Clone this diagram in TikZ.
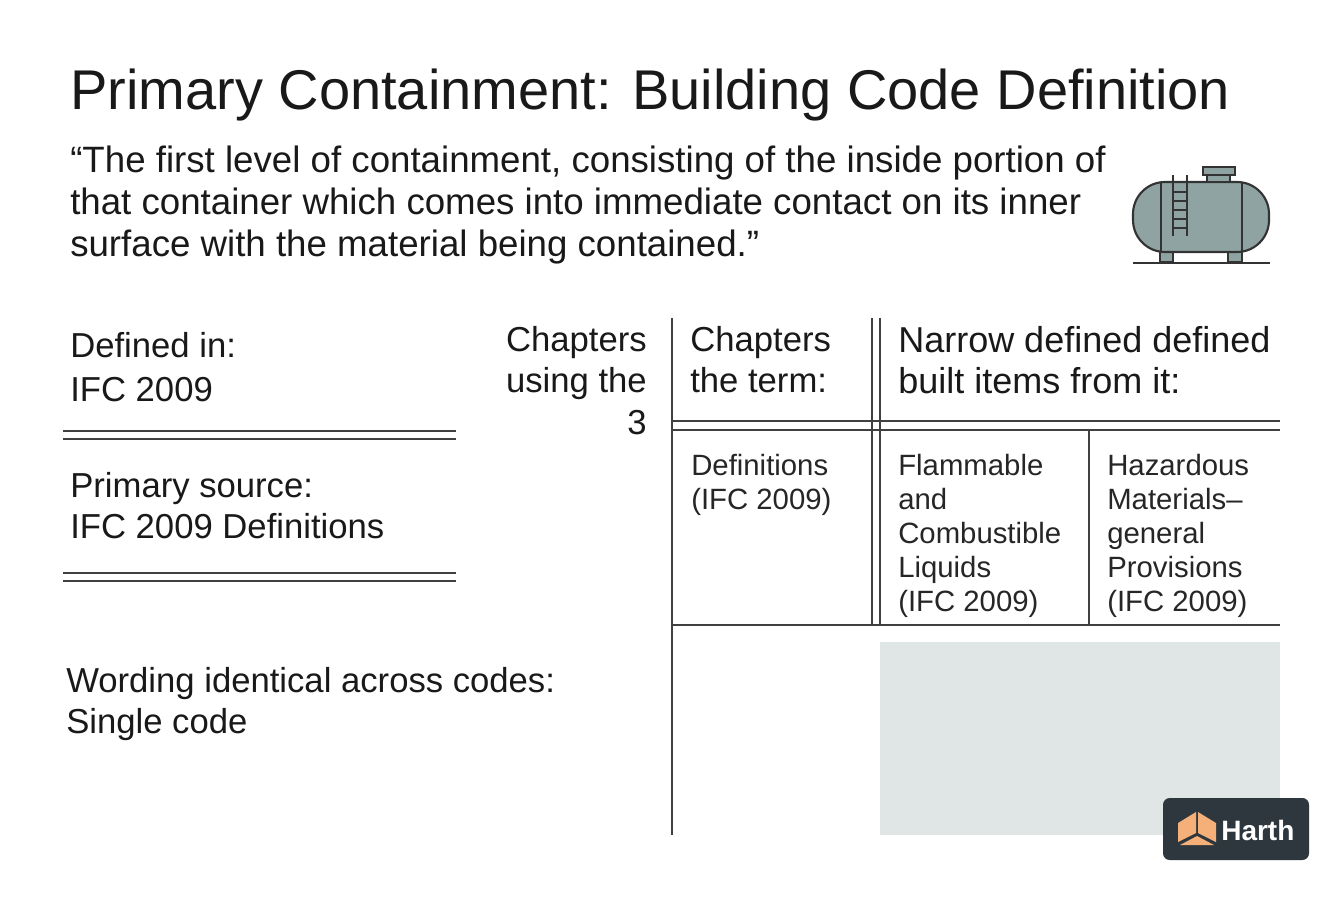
\documentclass[tikz,border=0pt]{standalone}
\usepackage{fontspec}
\setmainfont{Liberation Sans}
\begin{document}
\begin{tikzpicture}[x=0.75pt,y=-0.75pt,
  ln/.style={line width=1.3pt,draw=black!75},
  tl/.style={ln,line width=1.2pt},
  big/.style={font=\fontsize{26}{31}\selectfont,text=black!90,inner sep=0,anchor=west,align=left},
  sm/.style={font=\fontsize{22}{25.5}\selectfont,text=black!85,inner sep=0,anchor=north west,align=left},
  tk/.style={line width=1.6pt,draw=black!80}]
\useasboundingbox[fill=white] (0,0) rectangle (1344,896);
\node[anchor=west,inner sep=0,font=\fontsize{42}{48}\selectfont,text=black!90] (title) at (70,95) {Primary Containment: Building Code Definition};
\node[anchor=north west,inner sep=0,align=left,font=\fontsize{27.5}{31.5}\selectfont,text=black!90] (quote) at (70,146) {“The first level of containment, consisting of the inside portion of\\that container which comes into immediate contact on its inner\\surface with the material being contained.”};
% tank
\definecolor{tankc}{HTML}{8FA3A3}
\draw[tk,fill=tankc] (1160,252) rectangle (1173,262);
\draw[tk,fill=tankc] (1228,252) rectangle (1242,262);
\draw[tk,fill=tankc,rounded corners=24] (1133,182) rectangle (1269,252);
\draw[tk] (1161,182) -- (1161,252) (1242,182) -- (1242,252);
\draw[tk,fill=tankc] (1207,175) rectangle (1230,182);
\draw[tk,fill=tankc] (1203,167) rectangle (1235,175);
\draw[tk] (1173,175) -- (1173,236) (1187,175) -- (1187,236);
\foreach \y in {192,201,210,219,228} \draw[tk] (1173,\y) -- (1187,\y);
\draw[tk] (1133,263) -- (1270,263);
% left
\node[big] (def) at (70,345) {Defined in:};
\node[big] (ifc) at (70,390) {IFC 2009};
\draw[ln] (63,431) -- (456,431) (63,439) -- (456,439);
\node[big,anchor=north west] (src) at (70,472) {Primary source:\\IFC 2009 Definitions};
\draw[ln] (63,573) -- (456,573) (63,581) -- (456,581);
\node[big,anchor=north west] (word) at (66,667) {Wording identical across codes:\\Single code};
\node[big,anchor=north east,align=right] (chap) at (647,326) {Chapters\\using the\\3};
% table
\draw[tl] (672,318) -- (672,835);
\draw[tl] (872,318) -- (872,625) (880,318) -- (880,625);
\draw[tl] (672,421) -- (1280,421) (672,430) -- (1280,430);
\draw[tl] (672,625) -- (1280,625);
\draw[tl] (1089,430) -- (1089,625);
\node[big,anchor=north west] (h1) at (690,326) {Chapters\\the term:};
\node[big,anchor=north west,font=\fontsize{27}{31}\selectfont] (h2) at (898,326) {Narrow defined defined\\built items from it:};
\node[sm] (c1) at (691,454) {Definitions\\(IFC 2009)};
\node[sm] (c2) at (898,454) {Flammable\\and\\Combustible\\Liquids\\(IFC 2009)};
\node[sm] (c3) at (1107,454) {Hazardous\\Materials–\\general\\Provisions\\(IFC 2009)};
\fill[fill={rgb,255:red,224;green,229;blue,229}] (880,642) rectangle (1280,835);
% logo
\fill[fill={rgb,255:red,46;green,55;blue,61},rounded corners=5] (1163,798) rectangle (1309,860);
\definecolor{orng}{HTML}{F5B07A}
\fill[orng] (1196,812) -- (1178,823) -- (1178,842) -- (1196,833) -- cycle;
\fill[orng] (1198,812) -- (1216,823) -- (1216,842) -- (1198,833) -- cycle;
\fill[orng] (1197,836) -- (1180,845) -- (1214,845) -- cycle;
\node[anchor=west,inner sep=0,font=\fontsize{21}{24}\bfseries\selectfont,text=white] (logo) at (1221,830) {Harth};
\end{tikzpicture}
\end{document}
